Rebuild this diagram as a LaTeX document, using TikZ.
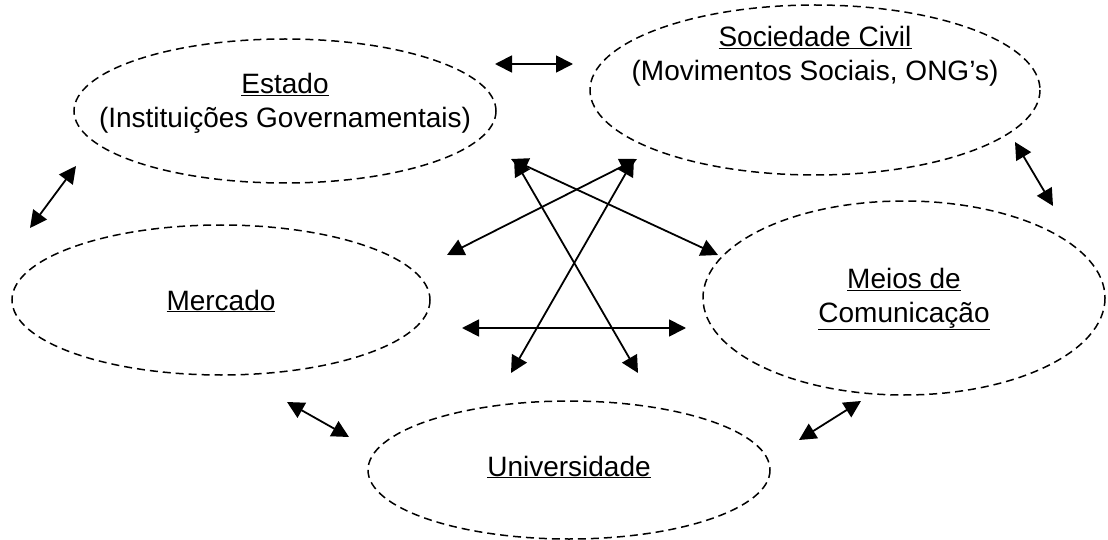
\documentclass[tikz,border=0pt]{standalone}
\usepackage{fontspec}
\setmainfont{Liberation Sans}
\usetikzlibrary{arrows.meta}
\begin{document}
\begin{tikzpicture}[x=1pt,y=-1pt,
  bub/.style={draw,dash pattern=on 8pt off 5pt,line width=1.5pt},
  lbl/.style={align=center,font=\fontsize{28}{34}\selectfont,inner sep=0pt},
  link/.style={line width=1.8pt,{Triangle[length=17pt,width=17pt]}-{Triangle[length=17pt,width=17pt]}}]
\useasboundingbox (0,0) rectangle (1108,540);
\draw[bub] (285,111) ellipse [x radius=211,y radius=72];
\draw[bub] (815,90) ellipse [x radius=225,y radius=85];
\draw[bub] (221,300) ellipse [x radius=209,y radius=75];
\draw[bub] (904,298) ellipse [x radius=201,y radius=97];
\draw[bub] (569,470) ellipse [x radius=201,y radius=69];
\node[lbl] (est) at (285,103) {\underline{Estado}\\(Instituições Governamentais)};
\node[lbl] (soc) at (815,56) {\underline{Sociedade Civil}\\(Movimentos Sociais, ONG’s)};
\node[lbl] (mer) at (221,301) {\underline{Mercado}};
\node[lbl] (mei) at (904,299) {\underline{Meios de}\\\underline{Comunicação}};
\node[lbl] (uni) at (569,467) {\underline{Universidade}};
\coordinate (a1) at (495,64); \coordinate (a2) at (573,64);
\coordinate (b1) at (30,228); \coordinate (b2) at (76,166);
\coordinate (c1) at (1015,142); \coordinate (c2) at (1053,206);
\coordinate (d1) at (287,402); \coordinate (d2) at (349,437);
\coordinate (e1) at (799,440); \coordinate (e2) at (861,401);
\coordinate (f1) at (511,159); \coordinate (f2) at (718,255);
\coordinate (g1) at (637,159); \coordinate (g2) at (447,255);
\coordinate (h1) at (514,159); \coordinate (h2) at (638,373);
\coordinate (i1) at (634,159); \coordinate (i2) at (511,373);
\coordinate (j1) at (462,328); \coordinate (j2) at (686,328);
\foreach \p in {a,b,c,d,e,f,g,h,i,j} \draw[link] (\p1) -- (\p2);
\end{tikzpicture}
\end{document}
